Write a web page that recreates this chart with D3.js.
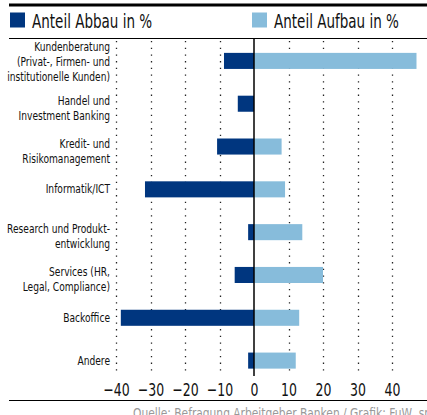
<!DOCTYPE html>
<html>
<head>
<meta charset="utf-8">
<script src="https://cdn.jsdelivr.net/npm/d3@7"></script>
<style>
  body { margin: 0; background: #fff; }
  svg { display: block; }
  text { font-family: "Liberation Sans Narrow", "DejaVu Sans Condensed", sans-serif; }
</style>
</head>
<body>
<svg id="chart"></svg>
<script>
// categories (line breaks as in the original)
var categories = [
    ["Kundenberatung", "(Privat-, Firmen- und", "institutionelle Kunden)"],
    ["Handel und", "Investment Banking"],
    ["Kredit- und", "Risikomanagement"],
    ["Informatik/ICT"],
    ["Research und Produkt-", "entwicklung"],
    ["Services (HR,", "Legal, Compliance)"],
    ["Backoffice"],
    ["Andere"]
];
var abbau = [-8.7, -4.7, -10.7, -31.6, -1.7, -5.6, -38.6, -1.7];
var aufbau = [47.1, 0, 8.0, 9.0, 14.0, 20.0, 13.1, 12.1];
var ticks = [-40, -30, -20, -10, 0, 10, 20, 30, 40];
var seriesNames = ["Anteil Abbau in %", "Anteil Aufbau in %"];
var source = "Quelle: Befragung Arbeitgeber Banken / Grafik: FuW, sp";

var width = 427, height = 415;
var dark = "#00367f", light = "#87bcdb";
// the original uses a condensed face; squeeze the installed one horizontally
var squeeze = 0.8;

var svg = d3.select("#chart").attr("width", width).attr("height", height);

var x = d3.scaleLinear().domain([-40, 40]).range([116, 392]);
var y = d3.scaleBand()
    .domain(d3.range(categories.length))
    .range([39.5, 382])
    .paddingInner(0.625)
    .paddingOuter(0.3125);

function squeezed(parent, px, py, s) {
    return parent.append("g").attr("transform", "translate(" + px + "," + py + ") scale(" + s + ",1)");
}

// frame lines
svg.append("line").attr("x1", 9).attr("x2", width).attr("y1", 5).attr("y2", 5)
    .attr("stroke", "#000").attr("stroke-width", 3);
svg.append("line").attr("x1", 9).attr("x2", width).attr("y1", 38.5).attr("y2", 38.5)
    .attr("stroke", "#000").attr("stroke-width", 1);
svg.append("line").attr("x1", 9).attr("x2", width).attr("y1", 400.5).attr("y2", 400.5)
    .attr("stroke", "#000").attr("stroke-width", 1.2);

// legend
var legend = svg.append("g");
var legX = [10, 252];
seriesNames.forEach(function(n, i) {
    legend.append("rect").attr("x", legX[i]).attr("y", 12.5).attr("width", 15).attr("height", 15)
        .attr("fill", i == 0 ? dark : light);
    squeezed(legend, legX[i] + 22, 27.5, 0.77).append("text")
        .attr("font-size", 19.5).attr("fill", "#111").text(n);
});

// dotted grid
var grid = svg.append("g");
grid.selectAll("line")
    .data(ticks.filter(function(t) { return t != 0; }))
    .enter().append("line")
    .attr("x1", function(d) { return Math.round(x(d)) + 0.5; })
    .attr("x2", function(d) { return Math.round(x(d)) + 0.5; })
    .attr("y1", 41).attr("y2", 376)
    .attr("stroke", "#222").attr("stroke-width", 1.3)
    .attr("stroke-dasharray", "1.3,5.4");

// bars
var bars = svg.append("g");
bars.selectAll("rect.abbau")
    .data(abbau)
    .enter().append("rect")
    .attr("class", "abbau")
    .attr("x", function(d) { return x(d); })
    .attr("y", function(d, i) { return y(i); })
    .attr("width", function(d) { return x(0) - x(d); })
    .attr("height", y.bandwidth())
    .attr("fill", dark);
bars.selectAll("rect.aufbau")
    .data(aufbau)
    .enter().append("rect")
    .attr("class", "aufbau")
    .attr("x", x(0))
    .attr("y", function(d, i) { return y(i); })
    .attr("width", function(d) { return x(d) - x(0); })
    .attr("height", y.bandwidth())
    .attr("fill", light);

// zero line
svg.append("line")
    .attr("x1", x(0)).attr("x2", x(0)).attr("y1", 39).attr("y2", 376)
    .attr("stroke", "#000").attr("stroke-width", 1.5);

// category labels
var offsets = { 1: [4], 2: [1, 16], 3: [-10, 5, 20] };
var labels = svg.append("g").attr("font-size", 13).attr("fill", "#111").attr("text-anchor", "end");
categories.forEach(function(lines, i) {
    var cy = y(i) + y.bandwidth() / 2;
    var t = squeezed(labels, 110, cy, 0.78).append("text");
    lines.forEach(function(l, j) {
        t.append("tspan").attr("x", 0).attr("y", offsets[lines.length][j]).text(l);
    });
});

// x axis labels
var xAxis = d3.axisBottom(x).tickValues(ticks).tickSize(0)
    .tickFormat(function(d) { return d < 0 ? "\u2212" + Math.abs(d) : d; });
var ax = svg.append("g").attr("transform", "translate(0,380)").call(xAxis);
ax.select(".domain").remove();
ax.selectAll("text").attr("font-size", 18.5).attr("fill", "#111")
    .attr("font-family", "\"Liberation Sans Narrow\", \"DejaVu Sans Condensed\", sans-serif")
    .attr("transform", "scale(0.75,1)");

// source
squeezed(svg, 133, 418, 0.88).append("text").attr("font-size", 13.5)
    .attr("fill", "#999").text(source);
</script>
</body>
</html>
